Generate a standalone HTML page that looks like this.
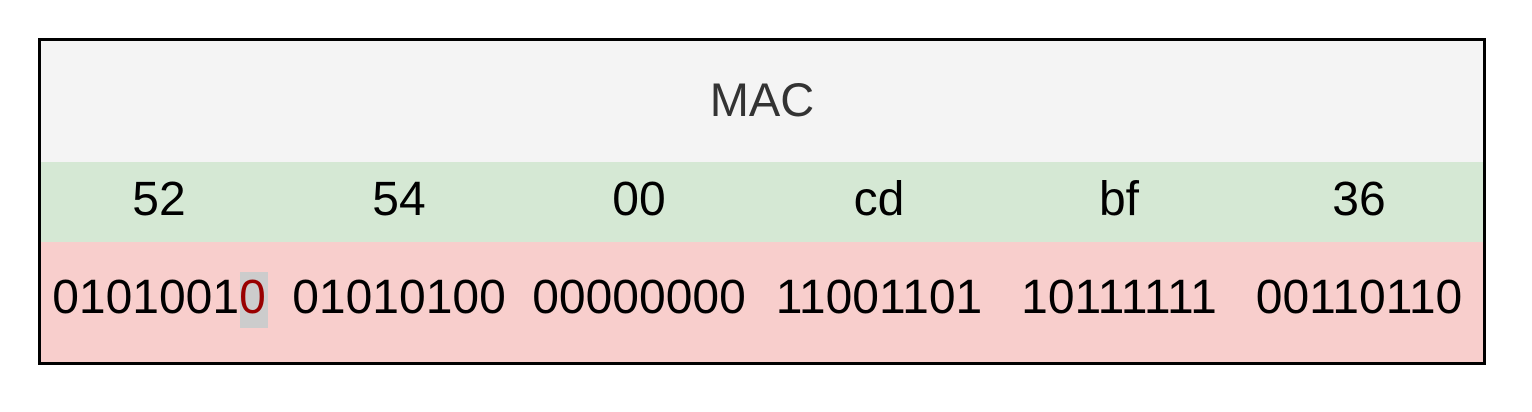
<!DOCTYPE html>
<html><head><style>
body{margin:0;width:1532px;height:412px;background:#fff;position:relative;font-family:"Liberation Sans",Helvetica,Arial,sans-serif;}
.box{position:absolute;left:38px;top:38px;width:1442px;height:321px;border:3px solid #000;}
.r{position:absolute;left:0;width:1442px;}
.c{position:absolute;width:240px;text-align:center;font-size:48px;color:#000;}
</style></head><body>
<div class="box">
<div class="r" style="top:0;height:121px;background:#f4f4f4;"><div style="position:absolute;left:0;width:1442px;top:33px;text-align:center;font-size:47px;color:#333;line-height:52px">MAC</div></div>
<div class="r" style="top:121px;height:80px;background:#d5e8d4;">
<div class="c" style="left:-2px;top:12px;line-height:52px">52</div>
<div class="c" style="left:238px;top:12px;line-height:52px">54</div>
<div class="c" style="left:478px;top:12px;line-height:52px">00</div>
<div class="c" style="left:718px;top:12px;line-height:52px">cd</div>
<div class="c" style="left:958px;top:12px;line-height:52px">bf</div>
<div class="c" style="left:1198px;top:12px;line-height:52px">36</div>
</div>
<div class="r" style="top:201px;height:120px;background:#f8cecc;">
<div style="position:absolute;left:199px;top:30px;width:28px;height:56px;background:#cccccc"></div>
<div class="c" style="left:-2px;top:30px;line-height:52px">0101001<span style="color:#990000">0</span></div>
<div class="c" style="left:238px;top:30px;line-height:52px">01010100</div>
<div class="c" style="left:478px;top:30px;line-height:52px">00000000</div>
<div class="c" style="left:718px;top:30px;line-height:52px">11001101</div>
<div class="c" style="left:958px;top:30px;line-height:52px">10111111</div>
<div class="c" style="left:1198px;top:30px;line-height:52px">00110110</div>
</div>
</div>
</body></html>
